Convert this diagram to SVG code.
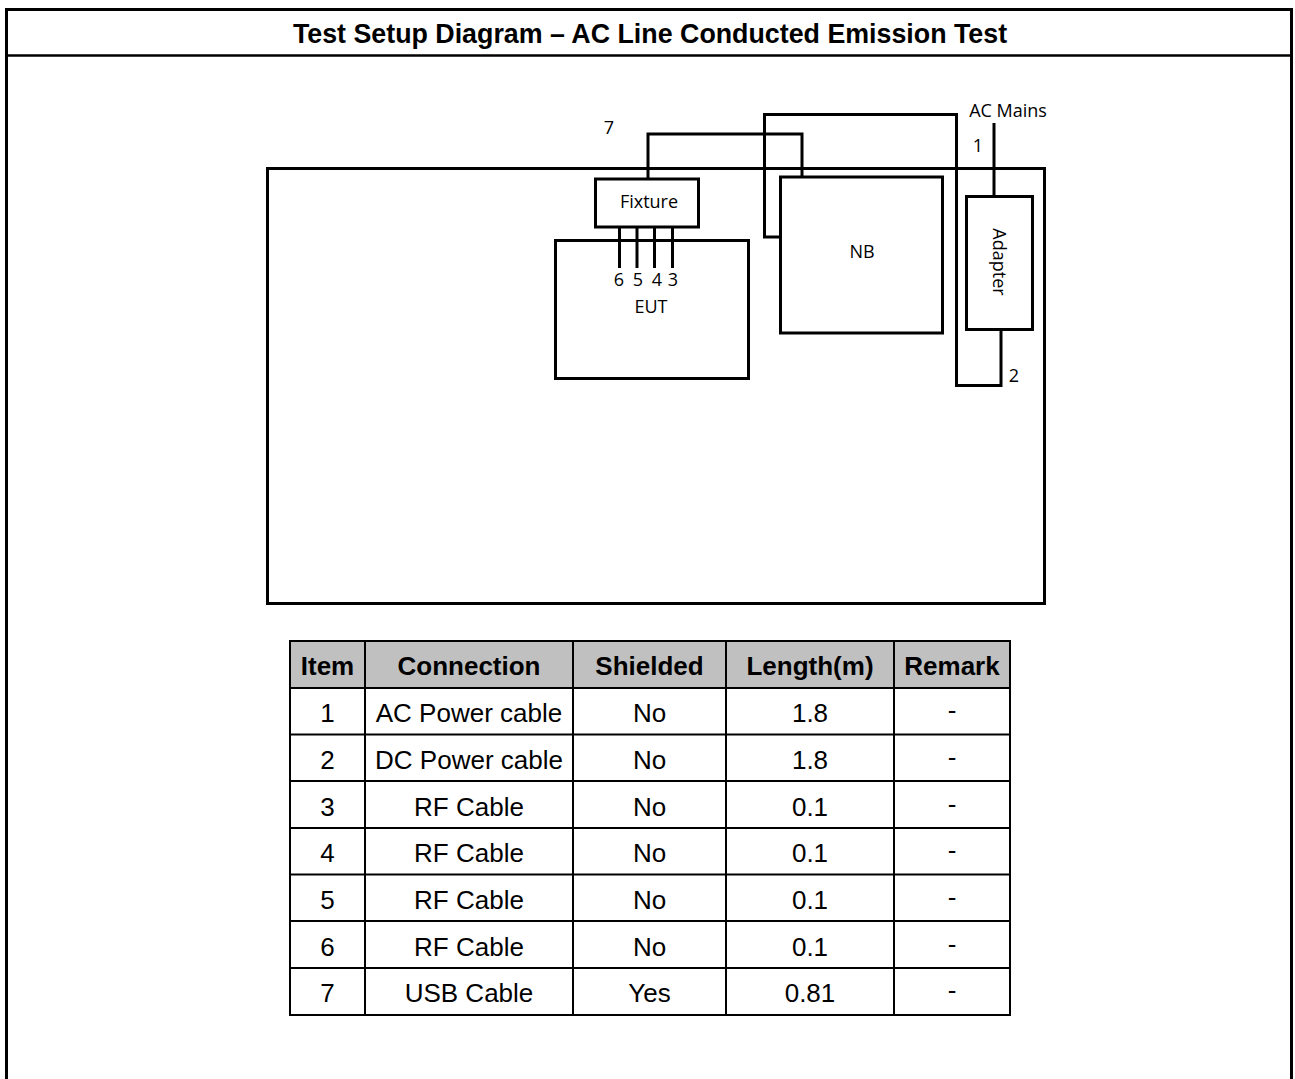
<svg xmlns="http://www.w3.org/2000/svg" width="1295" height="1079" viewBox="0 0 1295 1079">
<style>
.frame{fill:none;stroke:#000;stroke-width:3}
.box{fill:#fff;stroke:#000;stroke-width:3}
.wire{fill:none;stroke:#000;stroke-width:3}
.lbl{font-family:"Open Sans","Noto Sans",sans-serif;font-size:18px;fill:#000}
.title{font-family:"Liberation Sans",Arial,sans-serif;font-size:26.8px;font-weight:bold;fill:#000}
.th{font-family:"Liberation Sans",Arial,sans-serif;font-size:26px;font-weight:bold;fill:#000;text-anchor:middle}
.td{font-family:"Liberation Sans",Arial,sans-serif;font-size:26px;fill:#000;text-anchor:middle}
.grid{stroke:#000;stroke-width:2;fill:none}
</style>
<rect x="0" y="0" width="1295" height="1079" fill="#fff"/>
<g id="frame">
<path class="frame" d="M6.5,1079 V9.5 H1291.5 V1079"/>
<line x1="5" y1="55.5" x2="1293" y2="55.5" stroke="#000" stroke-width="2.5"/>
<text class="title" x="650" y="43" text-anchor="middle">Test Setup Diagram – AC Line Conducted Emission Test</text>
</g>
<g id="table-surface"><rect class="frame" x="267.5" y="168.5" width="777" height="435"/></g>
<g id="connectors">
<path class="wire" d="M648,179 V134 H802 V177"/>
<path class="wire" d="M780,237 H764.5 V114.5 H956.5 V385.5 H1001 V330"/>
<line class="wire" x1="994" y1="123" x2="994" y2="197"/>
<line class="wire" x1="619.5" y1="227" x2="619.5" y2="268"/>
<line class="wire" x1="637" y1="227" x2="637" y2="268"/>
<line class="wire" x1="654.5" y1="227" x2="654.5" y2="268"/>
<line class="wire" x1="672.5" y1="227" x2="672.5" y2="268"/>
</g>
<g id="eut"><rect class="frame" x="555.5" y="240.5" width="193" height="138"/>
<text class="lbl" x="651" y="313" text-anchor="middle">EUT</text></g>
<g id="fixture"><rect class="box" x="595.5" y="179" width="103" height="48"/>
<text class="lbl" x="649" y="208" text-anchor="middle">Fixture</text></g>
<g id="nb"><rect class="box" x="780.5" y="177" width="162" height="156"/>
<text class="lbl" x="862" y="258" text-anchor="middle">NB</text></g>
<g id="adapter"><rect class="box" x="966.5" y="196.5" width="66" height="133"/>
<text class="lbl" transform="translate(993,262) rotate(90)" text-anchor="middle">Adapter</text></g>
<g id="labels">
<text class="lbl" x="609" y="134" text-anchor="middle">7</text>
<text class="lbl" x="1008" y="117" text-anchor="middle">AC Mains</text>
<text class="lbl" x="978" y="152" text-anchor="middle">1</text>
<text class="lbl" x="1014" y="382" text-anchor="middle">2</text>
<text class="lbl" x="619" y="286" text-anchor="middle">6</text>
<text class="lbl" x="638" y="286" text-anchor="middle">5</text>
<text class="lbl" x="657" y="286" text-anchor="middle">4</text>
<text class="lbl" x="673" y="286" text-anchor="middle">3</text>
</g>
<g id="cable-table">
<rect x="290" y="641" width="720" height="47" fill="#c0c0c0"/>
<rect class="grid" x="290" y="641" width="720" height="374"/>
<path class="grid" d="M290,688 H1010 M290,734.5 H1010 M290,781 H1010 M290,828 H1010 M290,874.5 H1010 M290,921 H1010 M290,968 H1010 M365,641 V1015 M573,641 V1015 M726,641 V1015 M894,641 V1015"/>
<text class="th" x="327.5" y="675">Item</text>
<text class="th" x="469" y="675">Connection</text>
<text class="th" x="649.5" y="675">Shielded</text>
<text class="th" x="810" y="675">Length(m)</text>
<text class="th" x="952" y="675">Remark</text>
<g class="rows">
<text class="td" x="327.5" y="722">1</text><text class="td" x="469" y="722">AC Power cable</text><text class="td" x="649.5" y="722">No</text><text class="td" x="810" y="722">1.8</text><text class="td" x="952" y="719">-</text>
<text class="td" x="327.5" y="769">2</text><text class="td" x="469" y="769">DC Power cable</text><text class="td" x="649.5" y="769">No</text><text class="td" x="810" y="769">1.8</text><text class="td" x="952" y="766">-</text>
<text class="td" x="327.5" y="816">3</text><text class="td" x="469" y="816">RF Cable</text><text class="td" x="649.5" y="816">No</text><text class="td" x="810" y="816">0.1</text><text class="td" x="952" y="813">-</text>
<text class="td" x="327.5" y="862">4</text><text class="td" x="469" y="862">RF Cable</text><text class="td" x="649.5" y="862">No</text><text class="td" x="810" y="862">0.1</text><text class="td" x="952" y="859">-</text>
<text class="td" x="327.5" y="909">5</text><text class="td" x="469" y="909">RF Cable</text><text class="td" x="649.5" y="909">No</text><text class="td" x="810" y="909">0.1</text><text class="td" x="952" y="906">-</text>
<text class="td" x="327.5" y="956">6</text><text class="td" x="469" y="956">RF Cable</text><text class="td" x="649.5" y="956">No</text><text class="td" x="810" y="956">0.1</text><text class="td" x="952" y="953">-</text>
<text class="td" x="327.5" y="1002">7</text><text class="td" x="469" y="1002">USB Cable</text><text class="td" x="649.5" y="1002">Yes</text><text class="td" x="810" y="1002">0.81</text><text class="td" x="952" y="999">-</text>
</g>
</g>
</svg>
